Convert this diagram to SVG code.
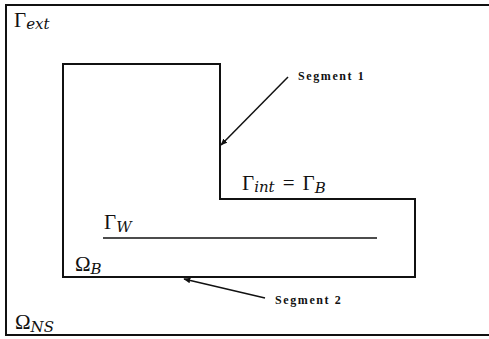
<svg xmlns="http://www.w3.org/2000/svg" width="489" height="339" viewBox="0 0 489 339">
<style>
.ln{fill:none;stroke:#111;stroke-width:2}
.th{fill:none;stroke:#111;stroke-width:1.5}
.m{font-family:"Liberation Serif","DejaVu Serif",serif;font-size:21px;fill:#111}
.s{font-family:"DejaVu Serif","Liberation Serif",serif;font-style:italic;font-size:15px;fill:#111}
.seg{font-family:"Liberation Serif","DejaVu Serif",serif;font-weight:bold;font-size:12px;letter-spacing:1.6px;fill:#111}
</style>
<defs>
<marker id="ah" viewBox="0 0 10 10" refX="9" refY="5" markerWidth="7" markerHeight="7" orient="auto" markerUnits="userSpaceOnUse">
<path d="M0,1 L10,5 L0,9 z" fill="#111"/>
</marker>
</defs>
<g id="frame">
<path class="ln" d="M489,5 L6,5 L6,335 L489,335"/>
</g>
<g id="domainB">
<path class="ln" d="M63,64 L220,64 L220,199 L415,199 L415,277 L63,277 Z"/>
</g>
<g id="wall">
<line class="th" x1="103" y1="238" x2="377" y2="238"/>
</g>
<g id="connectors">
<line class="th" x1="288" y1="77" x2="221" y2="145" marker-end="url(#ah)"/>
<line class="th" x1="265" y1="298" x2="184" y2="279" marker-end="url(#ah)"/>
</g>
<g id="labels">
<text x="14" y="27"><tspan class="m">Γ</tspan><tspan class="s" dy="2">ext</tspan></text>
<text x="242" y="190"><tspan class="m">Γ</tspan><tspan class="s" dy="2">int</tspan><tspan class="m" dy="-2" dx="8" font-size="24">=</tspan><tspan class="m" dx="8">Γ</tspan><tspan class="s" dy="3">B</tspan></text>
<text x="104" y="229"><tspan class="m">Γ</tspan><tspan class="s" dy="3">W</tspan></text>
<text x="75" y="271"><tspan class="m">Ω</tspan><tspan class="s" dy="3">B</tspan></text>
<text x="15" y="329"><tspan class="m">Ω</tspan><tspan class="s" dy="3">NS</tspan></text>
<text class="seg" x="298" y="80">Segment 1</text>
<text class="seg" x="275" y="304">Segment 2</text>
</g>
</svg>
